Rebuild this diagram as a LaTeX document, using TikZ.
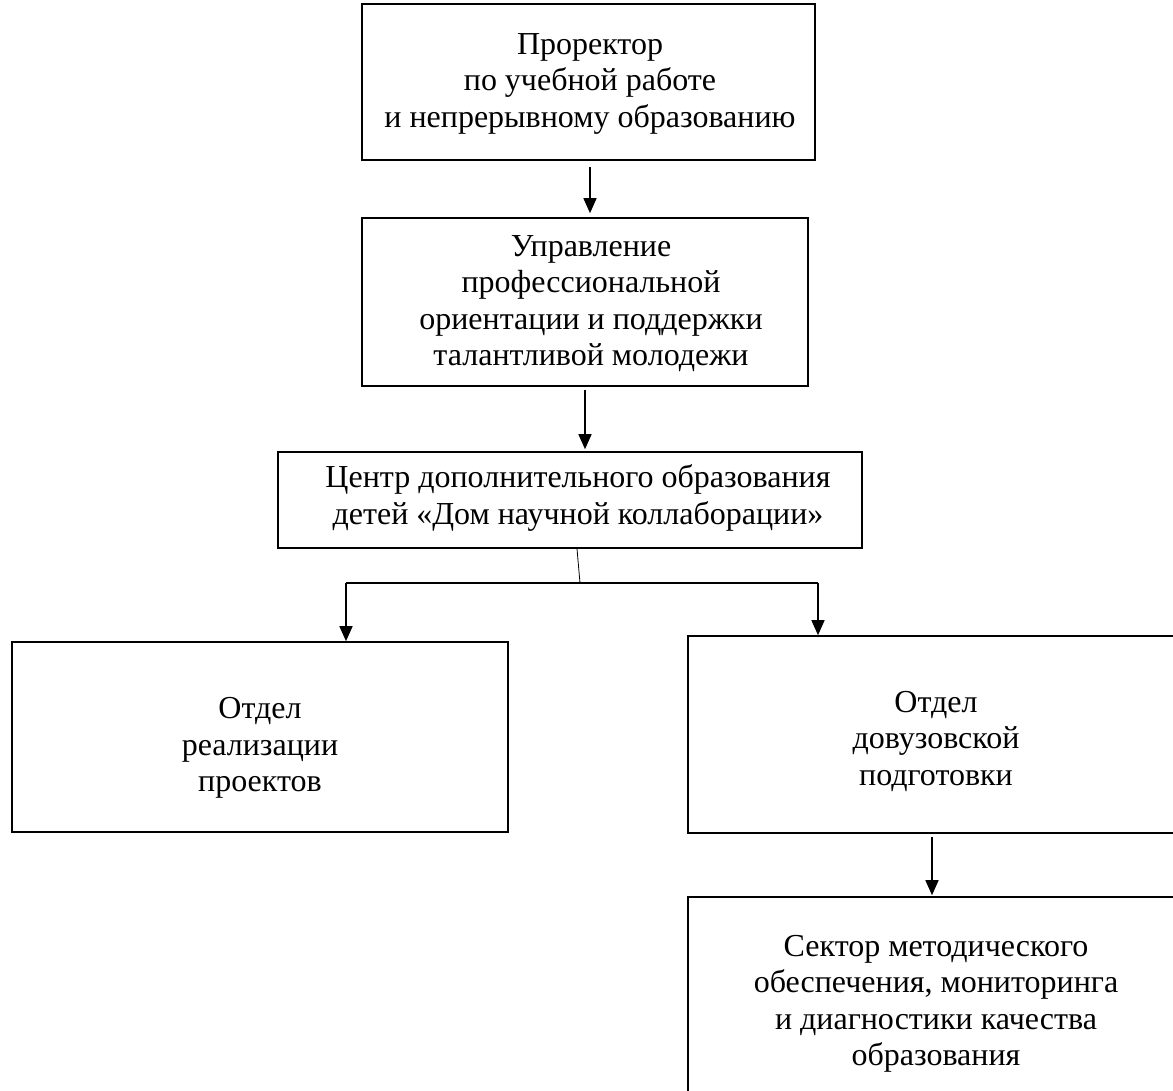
\documentclass[tikz,border=0pt]{standalone}
\usepackage{fontspec}
\setmainfont{Liberation Serif}
\usetikzlibrary{arrows.meta}
\begin{document}
\begin{tikzpicture}[x=1pt,y=-1pt,
  box/.style={draw, line width=1.6pt, inner sep=0pt},
  txt/.style={align=center, font=\fontsize{32}{36.5}\selectfont, inner sep=0pt},
  arr/.style={line width=1.4pt, -{Triangle[length=15pt,width=13pt]}},
  thin/.style={line width=0.8pt}]
\useasboundingbox (0,0) rectangle (1173,1091);
\clip (0,0) rectangle (1173,1091);
% boxes
\node[box, minimum width=453pt, minimum height=156pt] (b1) at (588.5,82) {};
\node[box, minimum width=446pt, minimum height=168pt] (b2) at (585,302) {};
\node[box, minimum width=584pt, minimum height=96pt] (b3) at (570,500) {};
\node[box, minimum width=496pt, minimum height=190pt] (b4) at (260,737) {};
\node[box, minimum width=500pt, minimum height=197pt] (b5) at (938,734.5) {};
\node[box, minimum width=500pt, minimum height=210pt] (b6) at (938,1002) {};
% texts
\node[txt] (t1) at (590,83.5) {Проректор\\по учебной работе\\и непрерывному образованию};
\node[txt] (t2) at (591,303.5) {Управление\\профессиональной\\ориентации и поддержки\\талантливой молодежи};
\node[txt] (t3) at (578,498) {Центр дополнительного образования\\детей «Дом научной коллаборации»};
\node[txt] (t4) at (260,748) {Отдел\\реализации\\проектов};
\node[txt] (t5) at (936,741) {Отдел\\довузовской\\подготовки};
\node[txt] (t6) at (936,1004) {Сектор методического\\обеспечения, мониторинга\\и диагностики качества\\образования};
% connectors
\draw[arr] ([xshift=1.5pt,yshift=-6pt]b1.south) -- ([xshift=5pt,yshift=4pt]b2.north);
\draw[arr] ([yshift=-3pt]b2.south) -- ([xshift=15pt,yshift=2pt]b3.north);
\coordinate (j) at (580,583);
\coordinate (jl) at (346,583);
\coordinate (jr) at (818,583);
\draw[thin] ([xshift=7pt]b3.south) -- (j);
\draw[line width=1.4pt] (jl) -- (jr);
\draw[arr] (jl) -- ([xshift=86pt]b4.north);
\draw[arr] (jr) -- ([xshift=-120pt]b5.north);
\draw[arr] ([xshift=-6pt,yshift=-3pt]b5.south) -- ([xshift=-6pt,yshift=1pt]b6.north);
\end{tikzpicture}
\end{document}
